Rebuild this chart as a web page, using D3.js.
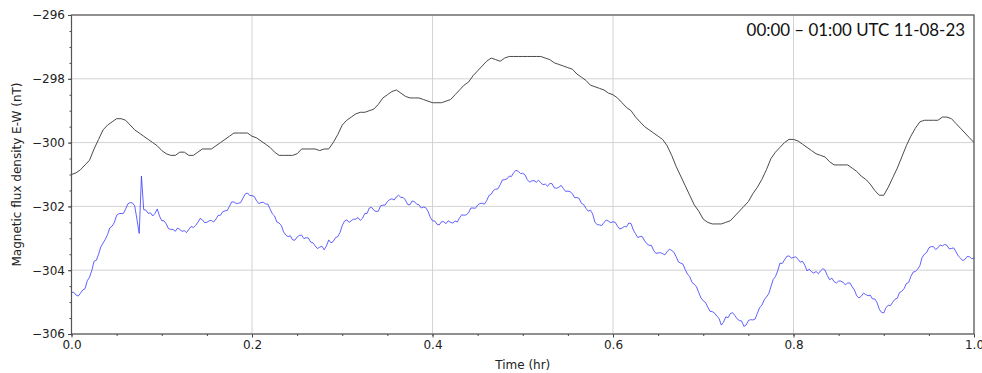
<!DOCTYPE html>
<html>
<head>
<meta charset="utf-8">
<script src="https://cdn.jsdelivr.net/npm/d3@7"></script>
<style>
  body { margin: 0; background: #fff; }
  svg { display: block; }
  .tick text { font-family: "DejaVu Sans", sans-serif; font-size: 12px; fill: #222; }
</style>
</head>
<body>
<svg class="chart"></svg>
<script>
// Sampling steps of the two traces, in hours.
var greyStep = 0.005;
var blueStep = 0.0025;

// E-W flux density, reference magnetometer (grey stepped trace), nT.
var greyValues = [
  -301.00, -300.95, -300.85, -300.70, -300.55, -300.20, -299.90, -299.60, -299.45, -299.35,
  -299.25, -299.25, -299.30, -299.45, -299.60, -299.70, -299.80, -299.90, -300.00, -300.10,
  -300.25, -300.35, -300.40, -300.40, -300.30, -300.30, -300.40, -300.40, -300.30, -300.20,
  -300.20, -300.20, -300.10, -300.00, -299.90, -299.80, -299.70, -299.70, -299.70, -299.70,
  -299.80, -299.85, -299.95, -300.05, -300.15, -300.30, -300.40, -300.40, -300.40, -300.40,
  -300.35, -300.20, -300.20, -300.20, -300.20, -300.25, -300.20, -300.20, -300.00, -299.75,
  -299.45, -299.30, -299.20, -299.10, -299.05, -299.05, -299.00, -298.95, -298.80, -298.60,
  -298.50, -298.40, -298.35, -298.45, -298.55, -298.60, -298.60, -298.60, -298.65, -298.70,
  -298.75, -298.75, -298.75, -298.70, -298.65, -298.50, -298.35, -298.20, -298.10, -297.90,
  -297.75, -297.60, -297.45, -297.35, -297.40, -297.45, -297.35, -297.30, -297.30, -297.30,
  -297.30, -297.30, -297.30, -297.30, -297.30, -297.35, -297.40, -297.50, -297.55, -297.60,
  -297.65, -297.70, -297.85, -297.95, -298.05, -298.20, -298.25, -298.30, -298.35, -298.45,
  -298.50, -298.60, -298.75, -298.90, -299.00, -299.20, -299.35, -299.50, -299.60, -299.70,
  -299.80, -299.90, -300.10, -300.40, -300.75, -301.05, -301.35, -301.65, -301.95, -302.15,
  -302.40, -302.50, -302.55, -302.55, -302.55, -302.50, -302.45, -302.30, -302.15, -302.00,
  -301.85, -301.60, -301.40, -301.15, -300.85, -300.50, -300.30, -300.15, -300.00, -299.90,
  -299.90, -299.95, -300.05, -300.15, -300.25, -300.35, -300.40, -300.45, -300.60, -300.70,
  -300.70, -300.70, -300.70, -300.80, -300.90, -301.05, -301.15, -301.30, -301.50, -301.65,
  -301.65, -301.40, -301.10, -300.80, -300.45, -300.10, -299.80, -299.55, -299.35, -299.30,
  -299.30, -299.30, -299.30, -299.20, -299.20, -299.25, -299.40, -299.55, -299.70, -299.85,
  -300.00
];

// E-W flux density, test sensor (blue noisy trace), nT.
var blueValues = [
  -304.70, -304.69, -304.78, -304.81, -304.72, -304.62, -304.58, -304.33, -304.22, -304.01,
  -303.72, -303.69, -303.50, -303.27, -303.15, -303.03, -302.88, -302.67, -302.62, -302.50,
  -302.28, -302.23, -302.22, -302.22, -302.08, -301.92, -301.88, -301.89, -301.98, -302.40,
  -302.85, -301.05, -302.10, -302.12, -302.22, -302.20, -302.30, -302.22, -302.08, -302.30,
  -302.45, -302.45, -302.55, -302.70, -302.72, -302.72, -302.78, -302.68, -302.72, -302.78,
  -302.76, -302.82, -302.72, -302.63, -302.66, -302.60, -302.50, -302.38, -302.42, -302.51,
  -302.50, -302.45, -302.44, -302.49, -302.40, -302.28, -302.28, -302.17, -302.14, -302.13,
  -302.00, -301.86, -301.86, -301.91, -301.90, -301.88, -301.74, -301.61, -301.58, -301.66,
  -301.66, -301.69, -301.82, -301.91, -301.88, -301.87, -301.92, -301.93, -302.08, -302.23,
  -302.30, -302.49, -302.52, -302.60, -302.80, -302.90, -302.95, -302.92, -303.05, -303.06,
  -302.96, -302.91, -302.90, -303.01, -302.98, -302.99, -303.12, -303.14, -303.24, -303.32,
  -303.28, -303.25, -303.36, -303.24, -303.05, -303.14, -303.10, -302.98, -302.95, -302.82,
  -302.60, -302.46, -302.42, -302.50, -302.45, -302.40, -302.40, -302.35, -302.44, -302.37,
  -302.22, -302.22, -302.05, -302.03, -302.12, -302.16, -302.15, -301.98, -301.96, -301.96,
  -301.85, -301.79, -301.76, -301.80, -301.70, -301.65, -301.72, -301.72, -301.80, -301.94,
  -301.95, -301.83, -301.85, -301.93, -301.95, -302.05, -302.02, -302.04, -302.15, -302.34,
  -302.45, -302.46, -302.56, -302.58, -302.48, -302.48, -302.54, -302.45, -302.50, -302.52,
  -302.46, -302.49, -302.36, -302.26, -302.28, -302.26, -302.20, -302.05, -302.05, -302.06,
  -301.96, -301.91, -301.90, -301.93, -301.82, -301.66, -301.62, -301.50, -301.46, -301.45,
  -301.32, -301.17, -301.16, -301.14, -301.05, -301.06, -300.94, -300.87, -300.90, -300.97,
  -300.96, -301.01, -301.16, -301.24, -301.20, -301.19, -301.24, -301.18, -301.26, -301.32,
  -301.30, -301.37, -301.28, -301.29, -301.42, -301.43, -301.40, -301.34, -301.44, -301.53,
  -301.52, -301.54, -301.60, -301.73, -301.72, -301.75, -301.90, -301.94, -302.06, -302.15,
  -302.12, -302.24, -302.50, -302.57, -302.58, -302.60, -302.50, -302.43, -302.46, -302.51,
  -302.48, -302.50, -302.62, -302.71, -302.68, -302.63, -302.64, -302.52, -302.54, -302.74,
  -302.86, -302.98, -302.94, -302.95, -303.08, -303.17, -303.22, -303.22, -303.38, -303.47,
  -303.46, -303.45, -303.48, -303.52, -303.42, -303.34, -303.38, -303.44, -303.58, -303.74,
  -303.78, -303.81, -303.98, -304.12, -304.20, -304.38, -304.44, -304.52, -304.70, -304.87,
  -304.96, -305.01, -305.16, -305.29, -305.30, -305.34, -305.44, -305.51, -305.72, -305.63,
  -305.46, -305.49, -305.36, -305.33, -305.42, -305.52, -305.58, -305.59, -305.76, -305.72,
  -305.58, -305.55, -305.56, -305.53, -305.35, -305.17, -305.10, -304.93, -304.84, -304.74,
  -304.52, -304.29, -304.20, -304.02, -303.78, -303.79, -303.68, -303.57, -303.55, -303.62,
  -303.60, -303.58, -303.66, -303.75, -303.72, -303.84, -304.02, -303.97, -304.05, -304.09,
  -304.04, -304.11, -304.02, -303.95, -304.00, -304.17, -304.30, -304.25, -304.36, -304.40,
  -304.34, -304.34, -304.38, -304.46, -304.40, -304.40, -304.52, -304.62, -304.80, -304.87,
  -304.82, -304.72, -304.76, -304.80, -304.78, -304.90, -304.90, -305.01, -305.22, -305.32,
  -305.34, -305.17, -305.10, -305.11, -305.00, -304.91, -304.88, -304.70, -304.66, -304.58,
  -304.42, -304.39, -304.20, -304.06, -304.04, -303.97, -303.86, -303.60, -303.50, -303.45,
  -303.30, -303.26, -303.26, -303.35, -303.30, -303.21, -303.24, -303.19, -303.22, -303.33,
  -303.32, -303.30, -303.42, -303.55, -303.62, -303.70, -303.66, -303.57, -303.58, -303.64,
  -303.62
];

var xTicks = [0.0, 0.2, 0.4, 0.6, 0.8, 1.0];
var yTicks = [-306, -304, -302, -300, -298, -296];
var xLabel = "Time (hr)";
var yLabel = "Magnetic flux density E-W (nT)";
var stamp = "00:00 \u2013 01:00 UTC 11-08-23";

var width = 982, height = 373;
var margin = {top: 15, right: 8, bottom: 39, left: 71.5};
var innerW = width - margin.left - margin.right;
var innerH = height - margin.top - margin.bottom;

var svg = d3.select(".chart").attr("width", width).attr("height", height);
var g = svg.append("g").attr("transform", "translate(" + margin.left + "," + margin.top + ")");

var x = d3.scaleLinear().domain([0, 1]).range([0, innerW]);
var y = d3.scaleLinear().domain([-306, -296]).range([innerH, 0]);

// Gridlines at the major ticks.
g.append("g").selectAll("line").data(xTicks).enter().append("line")
    .attr("x1", function(d) { return x(d); }).attr("x2", function(d) { return x(d); })
    .attr("y1", 0).attr("y2", innerH)
    .attr("stroke", "#d3d3d3").attr("stroke-width", 1);
g.append("g").selectAll("line").data(yTicks).enter().append("line")
    .attr("y1", function(d) { return y(d); }).attr("y2", function(d) { return y(d); })
    .attr("x1", 0).attr("x2", innerW)
    .attr("stroke", "#d3d3d3").attr("stroke-width", 1);

// Minor ticks (no labels).
var xMinor = d3.range(0, 1.0001, 0.05);
var yMinor = d3.range(-306, -295.99, 0.5);
g.append("g").attr("transform", "translate(0," + innerH + ")")
    .call(d3.axisBottom(x).tickValues(xMinor).tickSize(2).tickFormat(""))
    .call(function(a) { a.select(".domain").remove(); a.selectAll("line").attr("stroke", "#444"); });
g.append("g")
    .call(d3.axisLeft(y).tickValues(yMinor).tickSize(2).tickFormat(""))
    .call(function(a) { a.select(".domain").remove(); a.selectAll("line").attr("stroke", "#444"); });

// Major axes.
g.append("g").attr("transform", "translate(0," + innerH + ")")
    .call(d3.axisBottom(x).tickValues(xTicks).tickSize(3.5).tickPadding(3).tickFormat(d3.format(".1f")))
    .call(function(a) { a.select(".domain").remove(); a.selectAll("line").attr("stroke", "#444"); });
g.append("g")
    .call(d3.axisLeft(y).tickValues(yTicks).tickSize(3.5).tickPadding(3)
        .tickFormat(function(d) { return String(d).replace("-", "\u2212"); }))
    .call(function(a) { a.select(".domain").remove(); a.selectAll("line").attr("stroke", "#444"); });

// Traces.
var grey = greyValues.map(function(v, i) { return {t: i * greyStep, v: v}; });
var blue = blueValues.map(function(v, i) { return {t: i * blueStep, v: v}; });

var line = d3.line()
    .x(function(d) { return x(d.t); })
    .y(function(d) { return y(d.v); });

g.append("path").datum(grey)
    .attr("fill", "none").attr("stroke", "#4a4a4a").attr("stroke-width", 1)
    .attr("d", line);

g.append("path").datum(blue)
    .attr("fill", "none").attr("stroke", "#3838ff").attr("stroke-width", 0.8)
    .attr("d", line);

// Frame.
g.append("rect").attr("width", innerW).attr("height", innerH)
    .attr("fill", "none").attr("stroke", "#555").attr("stroke-width", 1.2);

// Labels.
svg.append("text")
    .attr("x", margin.left + innerW / 2).attr("y", height - 4)
    .attr("text-anchor", "middle")
    .style("font-family", "DejaVu Sans, sans-serif").style("font-size", "12px").style("fill", "#222")
    .text(xLabel);

svg.append("text")
    .attr("transform", "translate(21," + (margin.top + innerH / 2) + ") rotate(-90)")
    .attr("text-anchor", "middle")
    .style("font-family", "DejaVu Sans, sans-serif").style("font-size", "12px").style("fill", "#222")
    .text(yLabel);

svg.append("text")
    .attr("x", 965).attr("y", 36)
    .attr("text-anchor", "end")
    .style("font-family", "Lato, sans-serif").style("font-size", "16.9px").style("fill", "#111")
    .text(stamp);
</script>
</body>
</html>
